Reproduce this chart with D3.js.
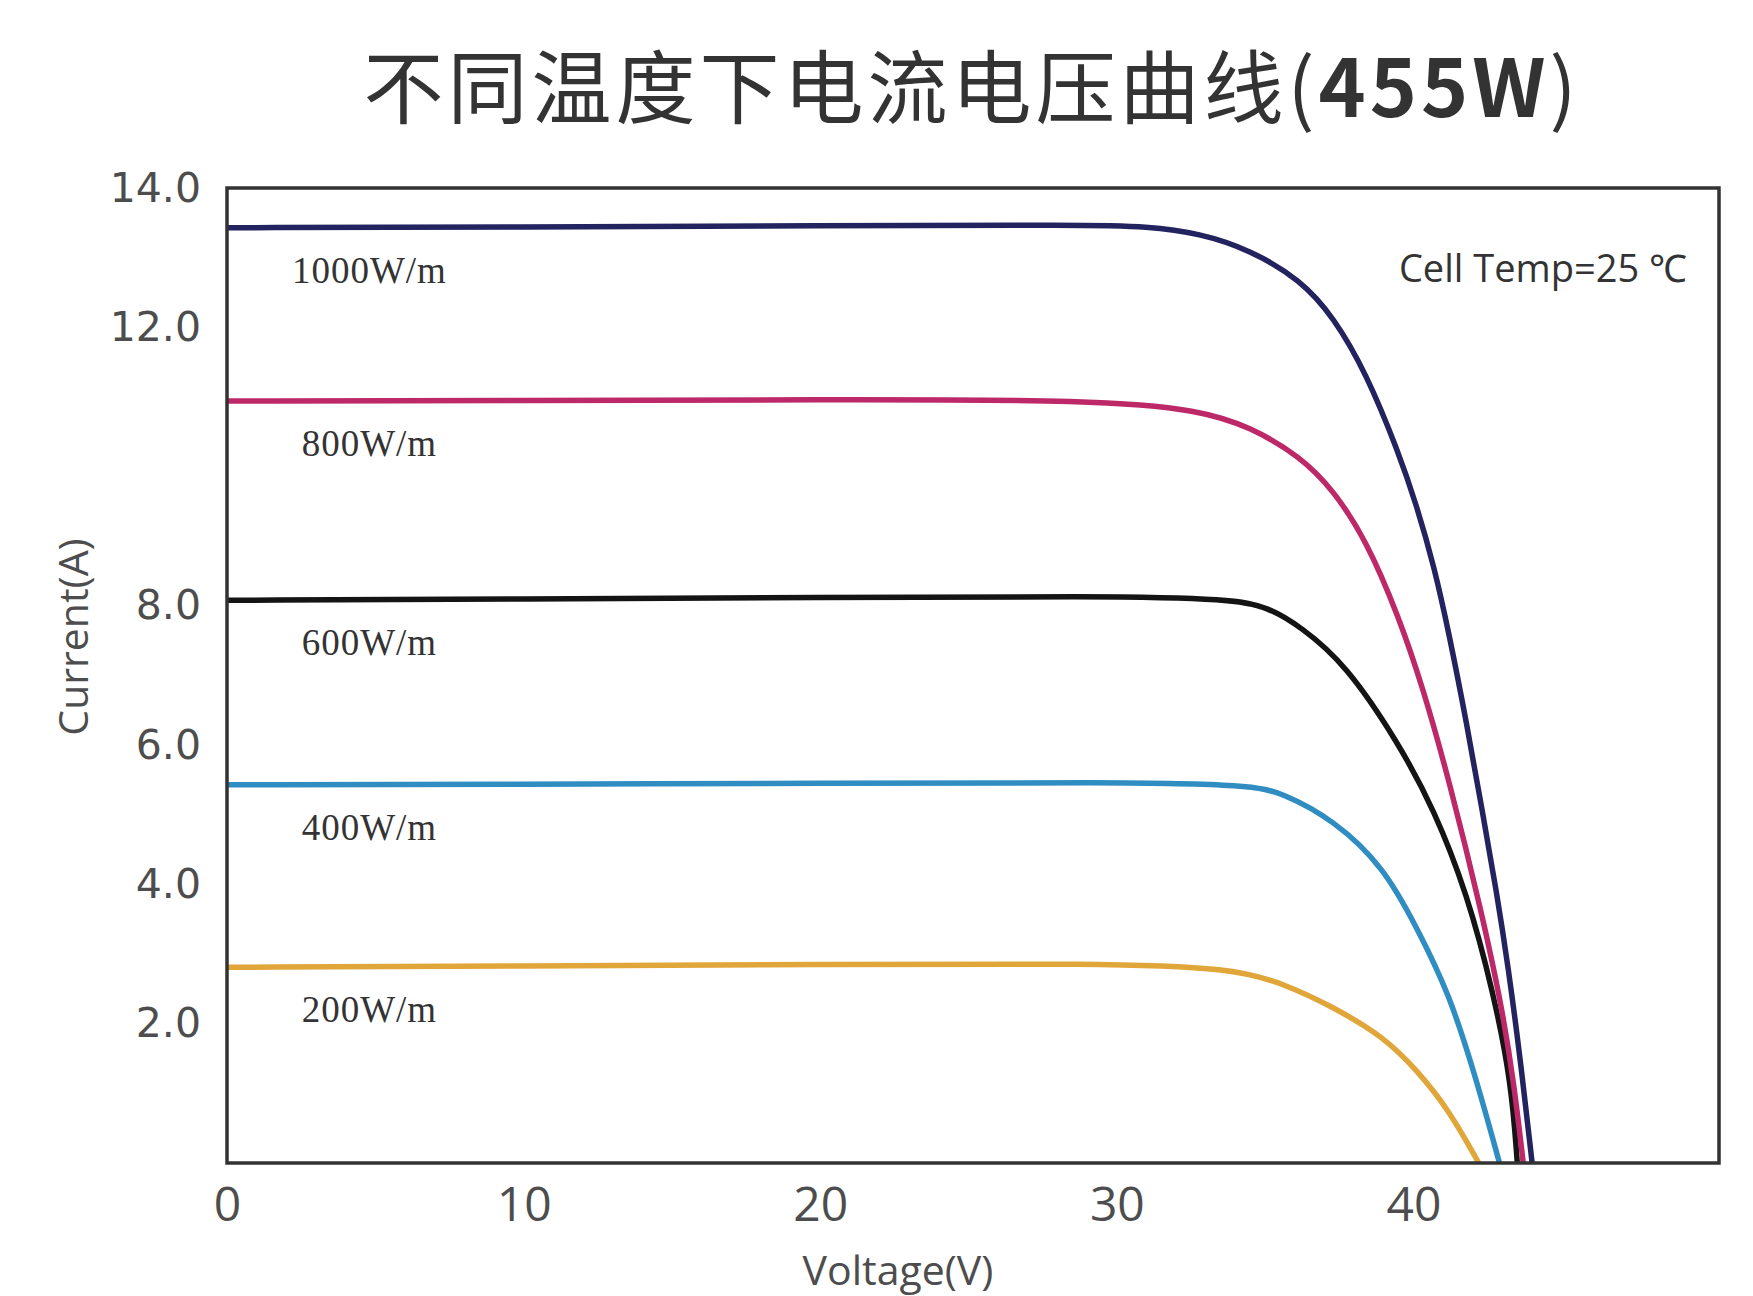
<!DOCTYPE html>
<html>
<head>
<meta charset="utf-8">
<script src="https://cdn.jsdelivr.net/npm/d3@7"></script>
<style>
  body { margin: 0; background: #fff; }
</style>
</head>
<body>
<div id="chart"></div>
<script>
// I-V curves at different irradiance: [voltage V, current A]
const iv1000 = [[0,13.43],[10,13.44],[20,13.46],[29,13.47],[31,13.45],[32.8,13.35],[34.5,13.11],[36.2,12.68],[37.3,12.15],[38.4,11.35],[39.5,10.2],[40.1,9.45],[40.7,8.56],[41.2,7.6],[41.8,6.3],[42.3,5.1],[42.8,3.9],[43.2,2.8],[43.6,1.5],[44.0,0]];
const iv800 = [[0,10.94],[10,10.95],[20,10.96],[29.4,10.96],[32.8,10.81],[34.5,10.57],[36.2,10.14],[37.3,9.66],[38.4,8.95],[39.5,7.85],[40.3,6.85],[41.2,5.5],[42.3,3.6],[43.0,2.2],[43.4,1.1],[43.7,0]];
const iv600 = [[0,8.08],[10,8.10],[20,8.12],[29.4,8.14],[33.9,8.10],[35.1,7.98],[36.2,7.70],[37.7,7.17],[39.5,6.03],[40.7,5.07],[41.8,3.88],[42.7,2.44],[43.3,1.15],[43.5,0]];
const iv400 = [[0,5.43],[10,5.44],[20,5.45],[30,5.47],[34.5,5.43],[35.6,5.31],[37.3,4.93],[39.0,4.25],[40.1,3.39],[41.2,2.44],[42.1,1.23],[42.9,0]];
const iv200 = [[0,2.81],[10,2.83],[20,2.85],[29.4,2.87],[33.9,2.80],[35.6,2.58],[37.3,2.24],[39.0,1.81],[40.1,1.34],[41.2,0.76],[42.2,0]];

const seriesNames = ["1000W/m", "800W/m", "600W/m", "400W/m", "200W/m"];
const seriesData = [iv1000, iv800, iv600, iv400, iv200];
const seriesColors = ["#22235f", "#bd2868", "#141414", "#2f8dc2", "#e1a63a"];

const xTicks = [0, 10, 20, 30, 40];
const yTicks = [14, 12, 8, 6, 4, 2];
const xMax = 50.3;
const yMax = 14;

const W = 1753, H = 1296;
const margin = {top: 188, right: 34, bottom: 133, left: 227};
const width = W - margin.left - margin.right;
const height = H - margin.top - margin.bottom;

const svg = d3.select('#chart').append('svg')
    .attr('width', W)
    .attr('height', H)
    .style('background', '#fff');

// title
const title = svg.append('text')
    .attr('x', 972)
    .attr('y', 117)
    .attr('text-anchor', 'middle')
    .style('font-family', '"Noto Sans CJK SC", "Noto Sans", sans-serif')
    .style('font-size', '80px')
    .style('letter-spacing', '4px')
    .style('fill', '#333');
title.append('tspan').text('不同温度下电流电压曲线(');
title.append('tspan').style('font-weight', 'bold').text('455W');
title.append('tspan').text(')');

const g = svg.append('g')
    .attr('transform', `translate(${margin.left},${margin.top})`);

// scales
const x = d3.scaleLinear().domain([0, xMax]).range([0, width]);
const y = d3.scaleLinear().domain([0, yMax]).range([height, 0]);

// axes (labels only, no tick marks)
const xAxis = g.append('g')
    .attr('transform', `translate(0,${height})`)
    .call(d3.axisBottom(x).tickValues(xTicks).tickSize(0).tickPadding(24).tickFormat(d3.format('d')));
xAxis.select('.domain').remove();
xAxis.selectAll('text')
    .style('font-family', '"Open Sans", sans-serif')
    .style('font-size', '48px')
    .style('fill', '#4d4d4d');

const yAxis = g.append('g')
    .call(d3.axisLeft(y).tickValues(yTicks).tickSize(0).tickPadding(26).tickFormat(d3.format('.1f')));
yAxis.select('.domain').remove();
yAxis.selectAll('text')
    .style('font-family', '"DejaVu Sans", sans-serif')
    .style('font-size', '41px')
    .style('fill', '#4d4d4d');

// axis titles
svg.append('text')
    .attr('transform', 'translate(88,637) rotate(-90)')
    .attr('text-anchor', 'middle')
    .style('font-family', '"Open Sans", sans-serif')
    .style('font-size', '41px')
    .style('fill', '#4d4d4d')
    .text('Current(A)');

svg.append('text')
    .attr('x', 898)
    .attr('y', 1285)
    .attr('text-anchor', 'middle')
    .style('font-family', '"Open Sans", sans-serif')
    .style('font-size', '41px')
    .style('fill', '#4d4d4d')
    .text('Voltage(V)');

// curves
const line = d3.line()
    .x(d => x(d[0]))
    .y(d => y(d[1]))
    .curve(d3.curveBasis);

g.append('clipPath').attr('id', 'plot-clip')
  .append('rect')
    .attr('width', width)
    .attr('height', height);

g.append('g')
    .attr('clip-path', 'url(#plot-clip)')
  .selectAll('path')
    .data(seriesData.map((d, i) => ({values: d, color: seriesColors[i]})).reverse())
  .enter().append('path')
    .attr('d', d => line(d.values))
    .attr('fill', 'none')
    .attr('stroke', d => d.color)
    .attr('stroke-width', 5.5)
    .attr('stroke-linejoin', 'round');

// curve labels sit just under each flat section
g.selectAll('.curve-label')
    .data(seriesData)
  .enter().append('text')
    .attr('class', 'curve-label')
    .attr('x', x(4.8))
    .attr('y', d => y(d[0][1]) + 55)
    .attr('text-anchor', 'middle')
    .style('font-family', '"Liberation Serif", "Times New Roman", serif')
    .style('font-size', '37px')
    .style('letter-spacing', '1px')
    .style('fill', '#333')
    .text((d, i) => seriesNames[i]);

// cell temperature note
g.append('text')
    .attr('x', width - 32)
    .attr('y', 282 - margin.top)
    .attr('text-anchor', 'end')
    .style('font-family', '"Open Sans", sans-serif')
    .style('font-size', '38px')
    .style('fill', '#333')
    .text('Cell Temp=25 ℃');

// plot frame
g.append('rect')
    .attr('width', width)
    .attr('height', height)
    .attr('fill', 'none')
    .attr('stroke', '#333')
    .attr('stroke-width', 3.5);
</script>
</body>
</html>
